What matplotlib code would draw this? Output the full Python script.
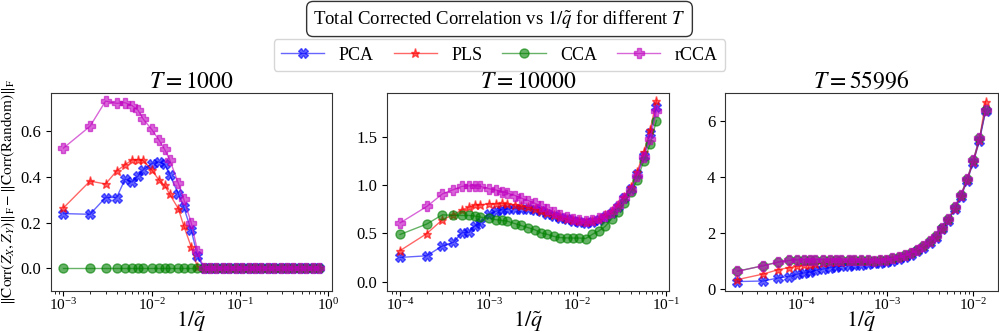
import numpy as np
import matplotlib
matplotlib.use("Agg")
import matplotlib.pyplot as plt

plt.rcParams['font.family'] = ['Liberation Serif', 'DejaVu Serif']
plt.rcParams['mathtext.fontset'] = 'stix'

# sample sizes, one panel each
T_values = [1000, 10000, 55996]

# 1/q~ = p / T
p_steps = [1, 2, 3, 4, 5, 6, 7, 8, 10, 12, 14, 16, 20, 23, 28, 33,
           39, 46, 54, 64, 76, 90, 106, 125, 148, 175, 207, 244, 289,
           341, 403, 476, 563, 665, 785]

# T = 1000
pca_1000 = [0.239, 0.236, 0.309, 0.309, 0.390, 0.377, 0.403, 0.430, 0.457, 0.465,
            0.454, 0.409, 0.326, 0.268, 0.167, 0.055] + [0.0] * 19
pls_1000 = [0.264, 0.381, 0.368, 0.425, 0.452, 0.474, 0.474, 0.471, 0.430, 0.387,
            0.362, 0.323, 0.261, 0.187, 0.094, 0.005] + [0.0] * 19
cca_1000 = [0.0] * 35
rcca_1000 = [0.525, 0.620, 0.730, 0.720, 0.723, 0.710, 0.690, 0.652, 0.606, 0.562,
             0.519, 0.474, 0.372, 0.304, 0.200, 0.077] + [0.0] * 19

# T = 10000
pca_10000 = [0.251, 0.268, 0.370, 0.408, 0.508, 0.510, 0.580, 0.607, 0.700, 0.730,
             0.745, 0.752, 0.755, 0.755, 0.750, 0.745, 0.730, 0.700, 0.680, 0.660,
             0.645, 0.630, 0.615, 0.612, 0.618, 0.635, 0.668, 0.710, 0.770, 0.865,
             0.960, 1.115, 1.300, 1.540, 1.810]
pls_10000 = [0.322, 0.498, 0.642, 0.693, 0.745, 0.772, 0.796, 0.796, 0.806, 0.806,
             0.813, 0.806, 0.796, 0.782, 0.772, 0.755, 0.735, 0.715, 0.690, 0.670,
             0.652, 0.635, 0.625, 0.618, 0.628, 0.652, 0.686, 0.730, 0.795, 0.880,
             0.985, 1.140, 1.340, 1.570, 1.877]
cca_10000 = [0.489, 0.597, 0.693, 0.686, 0.686, 0.686, 0.680, 0.669, 0.659, 0.642,
             0.635, 0.628, 0.600, 0.583, 0.559, 0.539, 0.505, 0.490, 0.470, 0.456,
             0.453, 0.452, 0.452, 0.447, 0.490, 0.525, 0.573, 0.650, 0.720, 0.815,
             0.930, 1.055, 1.250, 1.425, 1.670]
rcca_10000 = [0.609, 0.779, 0.909, 0.954, 0.988, 0.992, 0.995, 0.988, 0.964, 0.950,
              0.933, 0.920, 0.892, 0.868, 0.841, 0.813, 0.780, 0.750, 0.720, 0.690,
              0.665, 0.645, 0.635, 0.630, 0.640, 0.660, 0.685, 0.725, 0.780, 0.865,
              0.955, 1.100, 1.290, 1.480, 1.767]

# T = 55996
pca_55996 = [0.250, 0.270, 0.380, 0.430, 0.520, 0.560, 0.590, 0.650, 0.700, 0.750,
             0.780, 0.800, 0.820, 0.840, 0.860, 0.880, 0.900, 0.920, 0.940, 0.980,
             1.050, 1.120, 1.220, 1.330, 1.470, 1.630, 1.830, 2.120, 2.420, 2.850,
             3.280, 3.850, 4.520, 5.300, 6.380]
pls_55996 = [0.320, 0.520, 0.677, 0.750, 0.800, 0.830, 0.855, 0.880, 0.915, 0.940,
             0.960, 0.970, 0.980, 0.990, 1.000, 1.000, 1.000, 1.010, 1.030, 1.070,
             1.120, 1.180, 1.270, 1.370, 1.510, 1.670, 1.860, 2.150, 2.460, 2.870,
             3.320, 3.880, 4.560, 5.330, 6.710]
cca_55996 = [0.620, 0.820, 0.950, 1.010, 1.030, 1.040, 1.040, 1.040, 1.040, 1.040,
             1.030, 1.030, 1.020, 1.020, 1.010, 1.010, 1.000, 1.010, 1.030, 1.080,
             1.130, 1.190, 1.280, 1.390, 1.530, 1.690, 1.890, 2.190, 2.490, 2.910,
             3.350, 3.920, 4.600, 5.390, 6.400]
rcca_55996 = list(cca_55996)

series_by_T = {
    1000: (pca_1000, pls_1000, cca_1000, rcca_1000),
    10000: (pca_10000, pls_10000, cca_10000, rcca_10000),
    55996: (pca_55996, pls_55996, cca_55996, rcca_55996),
}

methods = ['PCA', 'PLS', 'CCA', 'rCCA']
colors = ['blue', 'red', 'green', 'm']
markers = ['X', '*', 'o', 'P']

fig = plt.figure(figsize=(9.99, 3.33), dpi=100)
W, H = 999, 333
boxes = [(50.7, 331.7), (387.3, 669.3), (725.0, 998.0)]
top_px, bot_px = 92.7, 291.3

axes = []
for (l, r), T in zip(boxes, T_values):
    ax = fig.add_axes([l / W, 1 - bot_px / H, (r - l) / W, (bot_px - top_px) / H])
    axes.append(ax)
    x = np.array(p_steps) / T
    for vals, name, c, mk in zip(series_by_T[T], methods, colors, markers):
        ax.plot(x, vals, color=c, marker=mk, markersize=6.5, linewidth=1,
                alpha=0.6, label=name)
    ax.set_xscale('log')
    ax.set_ylim(bottom=-0.1)
    ax.set_title(f'$T = {T}$', fontsize=17, pad=2)
    ax.set_xlabel(r'$1/\tilde{q}$', fontsize=16, labelpad=-3)
    ax.tick_params(axis='y', labelsize=12)
    ax.tick_params(axis='x', labelsize=11, pad=1)
    for s in ax.spines.values():
        s.set_color('#333333')

axes[0].set_ylabel(r'$\|\mathrm{Corr}(Z_X,Z_Y)\|_{\mathrm{F}} - \|\mathrm{Corr(Random)}\|_{\mathrm{F}}$',
                   fontsize=11, labelpad=2)

fig.text(0.5, 1 - 19 / H, r'Total Corrected Correlation vs $1/\tilde{q}$ for different $T$',
         ha='center', va='center', fontsize=13.5,
         bbox=dict(boxstyle='round,pad=0.35', facecolor='white', edgecolor='#333333'))

handles, labels = axes[0].get_legend_handles_labels()
fig.legend(handles, labels, loc='center', bbox_to_anchor=(0.5, 1 - 55 / H),
           ncol=4, fontsize=13, frameon=True, handlelength=2.4, columnspacing=1.1,
           handletextpad=0.8, borderpad=0.4)

fig.savefig('out.png', dpi=100)
